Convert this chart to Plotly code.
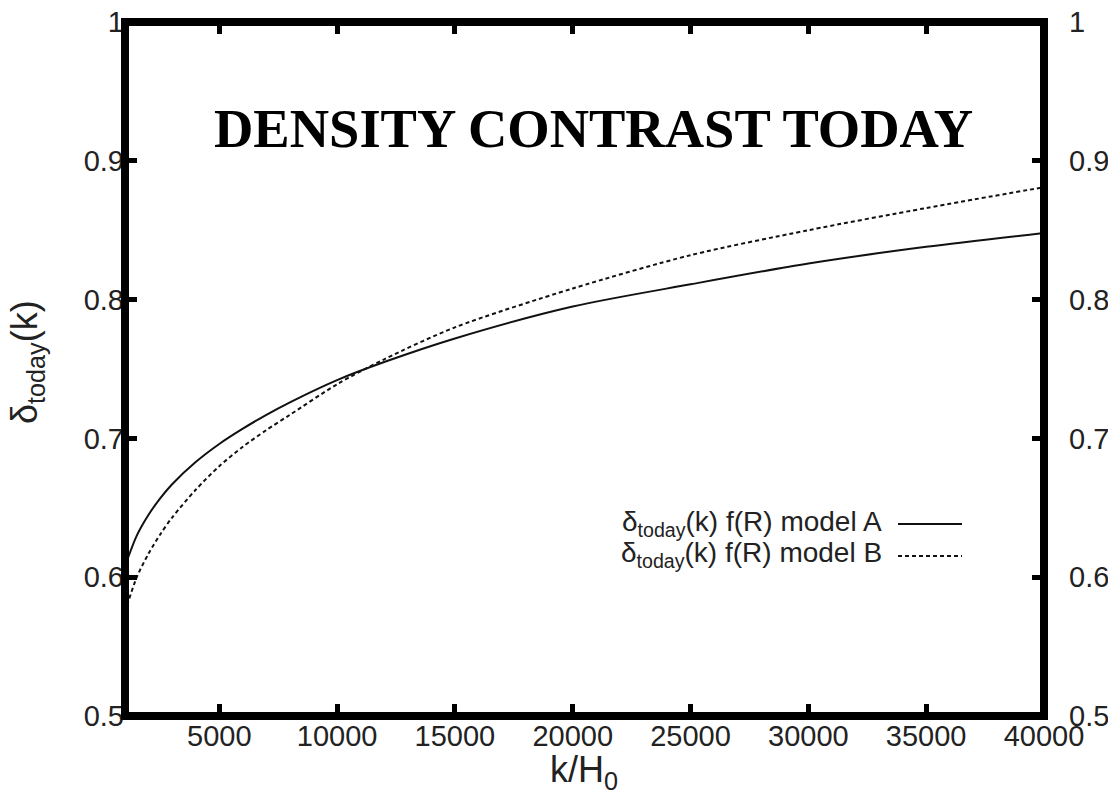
import plotly.graph_objects as go

# k/H0 values
k_vals = [1000, 1500, 2000, 2500, 3000, 4000, 5000, 6000, 7000, 8000, 10000, 12000,
          15000, 20000, 25000, 30000, 35000, 40000]
# delta_today(k), f(R) model A (solid)
delta_A = [0.608, 0.630, 0.645, 0.657, 0.667, 0.683, 0.696, 0.707, 0.717, 0.726, 0.742, 0.755,
           0.772, 0.795, 0.811, 0.826, 0.838, 0.848]
# delta_today(k), f(R) model B (dashed)
delta_B = [0.575, 0.600, 0.617, 0.631, 0.643, 0.663, 0.680, 0.694, 0.706, 0.717, 0.739, 0.757,
           0.780, 0.808, 0.832, 0.850, 0.866, 0.881]

x_ticks = [5000, 10000, 15000, 20000, 25000, 30000, 35000, 40000]
y_ticks = [0.5, 0.6, 0.7, 0.8, 0.9, 1.0]
y_tick_text = ["0.5", "0.6", "0.7", "0.8", "0.9", "1"]

legend_labels = ["δ<sub>today</sub>(k) f(R) model A", "δ<sub>today</sub>(k) f(R) model B"]

W, H = 1108, 794
L, R, T, B = 125, 64, 22, 78
pw, ph = W - L - R, H - T - B

def px(xp):
    return (xp - L) / pw

def py(yp):
    return (H - B - yp) / ph

fig = go.Figure()
fig.add_trace(go.Scatter(x=k_vals, y=delta_A, mode="lines",
                         line=dict(color="#111111", width=2, shape="spline", smoothing=0.8),
                         showlegend=False, hoverinfo="skip"))
fig.add_trace(go.Scatter(x=k_vals, y=delta_B, mode="lines",
                         line=dict(color="#111111", width=2, dash="4px,3px",
                                   shape="spline", smoothing=0.8),
                         showlegend=False, hoverinfo="skip"))
# invisible companion so the right-hand axis is drawn
fig.add_trace(go.Scatter(x=k_vals[:1], y=delta_A[:1], mode="markers", yaxis="y2",
                         marker=dict(opacity=0), showlegend=False, hoverinfo="skip"))

tick_font = dict(family="Liberation Sans, Arial, sans-serif", size=29, color="#222222")

fig.update_layout(
    width=W, height=H,
    margin=dict(l=L, r=R, t=T, b=B, autoexpand=False),
    paper_bgcolor="white", plot_bgcolor="white",
    showlegend=False,
    xaxis=dict(range=[1000, 40000], tickvals=x_ticks, ticktext=[str(v) for v in x_ticks],
               ticks="inside", ticklen=12, tickwidth=5, tickcolor="black",
               mirror="ticks", showgrid=False, zeroline=False, showline=False,
               automargin=False, tickfont=tick_font),
    yaxis=dict(range=[0.5, 1.0], tickvals=y_ticks, ticktext=y_tick_text,
               ticks="inside", ticklen=12, tickwidth=5, tickcolor="black",
               showgrid=False, zeroline=False, showline=False,
               automargin=False, tickfont=tick_font),
    yaxis2=dict(range=[0.5, 1.0], tickvals=y_ticks, ticktext=y_tick_text,
                overlaying="y", side="right",
                ticks="inside", ticklen=12, tickwidth=5, tickcolor="black",
                showgrid=False, zeroline=False, showline=False,
                ticklabelstandoff=24, automargin=False,
                tickfont=tick_font),
)

# frame
fig.add_shape(type="rect", xref="paper", yref="paper", x0=0, x1=1, y0=0, y1=1,
              line=dict(color="black", width=8), layer="above")

annos = []
annos.append(dict(text="<b>DENSITY CONTRAST TODAY</b>", x=px(593.5), y=py(128),
                  xref="paper", yref="paper", xanchor="center", yanchor="middle",
                  showarrow=False,
                  font=dict(family="Liberation Serif, Times New Roman, serif", size=54.5, color="black")))
annos.append(dict(text="k/H<sub>0</sub>", x=px(584), y=py(772),
                  xref="paper", yref="paper", xanchor="center", yanchor="middle",
                  showarrow=False,
                  font=dict(family="Liberation Sans, Arial, sans-serif", size=36, color="#222222")))
annos.append(dict(text="δ<sub>today</sub>(k)", x=px(27), y=py(362), textangle=-90,
                  xref="paper", yref="paper", xanchor="center", yanchor="middle",
                  showarrow=False,
                  font=dict(family="Liberation Sans, Arial, sans-serif", size=36, color="#222222")))

leg_y = [523, 554]
for lab, yy in zip(legend_labels, leg_y):
    annos.append(dict(text=lab, x=px(884), y=py(yy), xref="paper", yref="paper",
                      xanchor="right", yanchor="middle", showarrow=False,
                      font=dict(family="Liberation Sans, Arial, sans-serif", size=28, color="#222222")))
fig.update_layout(annotations=annos)

fig.add_shape(type="line", xref="paper", yref="paper", x0=px(898), x1=px(962),
              y0=py(524), y1=py(524), line=dict(color="#111111", width=2))
fig.add_shape(type="line", xref="paper", yref="paper", x0=px(898), x1=px(962),
              y0=py(556), y1=py(556), line=dict(color="#111111", width=2, dash="4px,3px"))

fig.write_html("out.html")
